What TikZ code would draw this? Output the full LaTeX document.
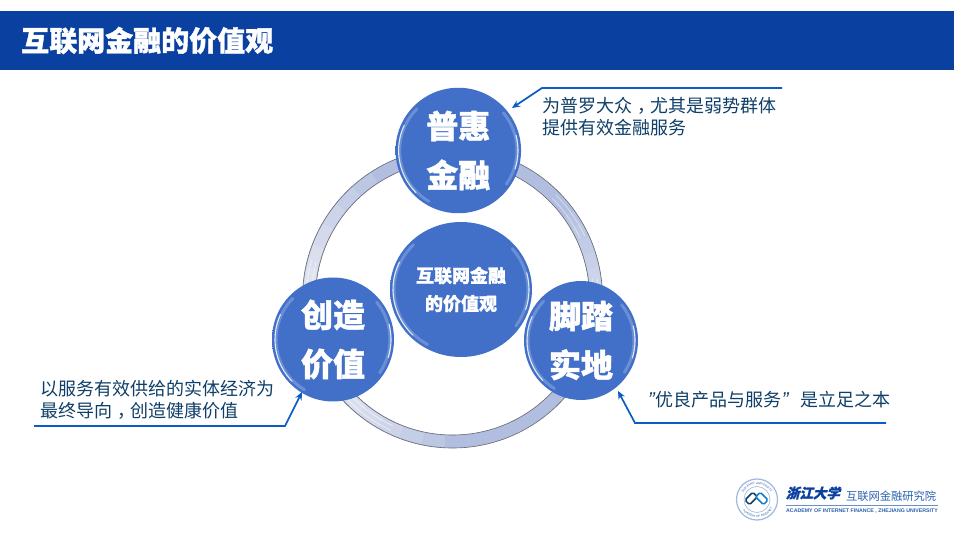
\documentclass[tikz,border=0pt]{standalone}
\usepackage{fontspec}
\setmainfont{Liberation Sans}
\newfontfamily\cjk{Noto Sans CJK SC}[BoldFeatures={FakeBold=1.3}]
\usetikzlibrary{shapes.geometric,arrows.meta,decorations.text}
\definecolor{barblue}{HTML}{0A41A0}
\definecolor{ballblue}{HTML}{4270C8}
\definecolor{balllight}{HTML}{6C95E0}
\definecolor{balledge}{HTML}{4A4C58}
\definecolor{ringblue}{HTML}{B2BEE0}
\definecolor{callblue}{HTML}{0B5CC4}
\definecolor{calltext}{HTML}{0F3F68}
\definecolor{logoblue}{HTML}{2A62AE}
\pgfdeclareradialshading{ballshade}{\pgfpoint{0bp}{0bp}}{
  color(0bp)=(ballblue);color(45bp)=(ballblue);color(48.5bp)=(balllight);
  color(49.3bp)=(balledge);color(50bp)=(balledge)}
\tikzset{
  x=1pt,y=-1pt,
  ball/.style={ellipse,inner sep=0pt,shading=ballshade,text=white,align=center},
  bigtext/.style={font=\cjk\bfseries\fontsize{32}{49}\selectfont},
  midtext/.style={font=\cjk\bfseries\fontsize{18}{28}\selectfont},
  calltxt/.style={anchor=west,inner sep=0pt,text=calltext,align=left,font=\cjk\fontsize{18}{22}\selectfont},
  callout/.style={draw=callblue,line width=1.7pt,-{Stealth[length=8pt,width=7pt]}},
  sheen/.style={white,line cap=round,opacity=.8,line width=1.1pt},
  glow/.style={white,line cap=round,opacity=.22,line width=3pt},
  logotext/.style={inner sep=0pt,text=logoblue}
}
\newcommand{\ctrcomma}{\kern5pt，\kern-5pt}
\newcommand{\qmark}{{\fontspec{Liberation Sans}\fontsize{20}{22}\selectfont\itshape ”}}
\newcommand{\ballarc}[7]{% style cx cy rx ry start end
  \draw[#1] ([shift={(#6:#4 and #5)}]#2,#3) arc[start angle=#6,end angle=#7,x radius=#4,y radius=#5];}
\newcommand{\ballfx}[4]{%
  \ballarc{glow}{#1}{#2}{#3-4}{#4-4}{120}{225}
  \ballarc{glow}{#1}{#2}{#3-4}{#4-4}{-40}{35}
  \ballarc{sheen}{#1}{#2}{#3-3}{#4-3}{135}{205}
  \ballarc{sheen}{#1}{#2}{#3-3}{#4-3}{-15}{18}
}
\begin{document}
\begin{tikzpicture}
\useasboundingbox (0,0) rectangle (954,534);
\fill[white] (0,0) rectangle (954,534);
% title bar
\fill[barblue] (0,11) rectangle (954,70);
\node[anchor=west,inner sep=0pt,text=white,font=\cjk\bfseries\fontsize{28}{32}\selectfont] (title) at (21,40.5) {互联网金融的价值观};
% ring
\draw[ringblue,line width=13pt] (452.5,298) circle[radius=143.5];
\foreach \k in {1,...,8}{
  \pgfmathsetmacro{\sa}{165-9*\k}
  \pgfmathsetmacro{\ea}{165+9*\k}
  \draw[white,opacity=.14,line width=11.5pt] ([shift={(\sa:143.5)}]452.5,298) arc[start angle=\sa,end angle=\ea,radius=143.5];
}
\foreach \k in {1,...,6}{
  \pgfmathsetmacro{\sa}{-6*\k}
  \pgfmathsetmacro{\ea}{6*\k}
  \draw[white,opacity=.09,line width=11.5pt] ([shift={(\sa:143.5)}]452.5,298) arc[start angle=\sa,end angle=\ea,radius=143.5];
}
\foreach \r in {141,146}{
  \draw[white,opacity=.6,line width=.7pt] ([shift={(115:\r)}]452.5,298) arc[start angle=115,end angle=195,radius=\r];
  \draw[white,opacity=.5,line width=.7pt] ([shift={(-45:\r)}]452.5,298) arc[start angle=-45,end angle=-25,radius=\r];
  \draw[white,opacity=.5,line width=.7pt] ([shift={(-8:\r)}]452.5,298) arc[start angle=-8,end angle=25,radius=\r];
}
\draw[balledge!85,line width=.6pt] (452.5,298) circle[radius=150];
\draw[balledge!85,line width=.6pt] (452.5,298) circle[radius=137];
% balls
\node[ball,minimum width=125.5pt,minimum height=125.5pt,bigtext] (top) at (458.3,150.5) {普惠\\金融};
\node[ball,minimum width=122pt,minimum height=124pt,bigtext] (left) at (333,339.5) {创造\\价值};
\node[ball,minimum width=114pt,minimum height=119pt,bigtext] (right) at (581,340.5) {脚踏\\实地};
\node[ball,minimum width=142pt,minimum height=135pt,midtext] (center) at (461,289.5) {互联网金融\\的价值观};
\ballfx{458.3}{150.5}{62.7}{62.7}
\ballfx{333}{339.5}{61}{62}
\ballfx{581}{340.5}{57}{59.5}
\ballfx{461}{289.5}{71}{67.5}
% callouts
\coordinate (t1) at (782,88); \coordinate (t2) at (542,88); \coordinate (t3) at (512,108);
\coordinate (l1) at (34,426); \coordinate (l2) at (285,426); \coordinate (l3) at (302,392);
\coordinate (r1) at (886,423); \coordinate (r2) at (635,423); \coordinate (r3) at (618,391);
\draw[callout] (t1) -- (t2) -- (t3);
\draw[callout] (l1) -- (l2) -- (l3);
\draw[callout] (r1) -- (r2) -- (r3);
\node[calltxt] (ttext) at (542,117) {为普罗大众\ctrcomma 尤其是弱势群体\\提供有效金融服务};
\node[calltxt] (ltext) at (40,399.5) {以服务有效供给的实体经济为\\最终导向\ctrcomma 创造健康价值};
\node[calltxt] (rtext) at (648,400) {\qmark\kern1pt 优良产品与服务\qmark\kern12pt 是立足之本};
% logo
\draw[logoblue!45,line width=1.2pt] (757,499.5) circle[radius=20.5];
\draw[logoblue!45,line width=.6pt] (757,499.5) circle[radius=13];
\path[decorate,decoration={text along path,text align=center,text={|\fontsize{3}{3}\selectfont\color{logoblue}|ZHEJIANG UNIVERSITY}}] ([shift={(160:15.2)}]757,499.5) arc[start angle=160,end angle=380,radius=15.2];
\path[decorate,decoration={text along path,text align=center,text={|\fontsize{3}{3}\selectfont\color{logoblue}|ACADEMY OF INTERNET}}] ([shift={(175:18)}]757,499.5) arc[start angle=175,end angle=-5,radius=18];
\draw[calltext,line width=1.5pt,rotate around={45:(751,499)},rounded corners=1.5pt] (746,495.5) rectangle (757,502);
\draw[cyan!60!blue,line width=1.5pt,rotate around={-45:(762,499)},rounded corners=1.5pt] (756,495.5) rectangle (767,502);
\node[anchor=west,inner sep=0pt,text=barblue,font=\cjk\bfseries\fontsize{13.5}{16}\selectfont,xslant=.25] (logocn) at (787,493) {浙江大学};
\node[anchor=west,logotext,font=\cjk\fontsize{11.25}{13}\selectfont] (logoname) at (846,496) {互联网金融研究院};
\draw[logoblue!70,line width=.9pt] (786,505) -- (938,505);
\node[anchor=west,logotext,font=\bfseries\fontsize{5.25}{6}\selectfont] (logoen) at (786,510.7) {ACADEMY OF INTERNET FINANCE , ZHEJIANG UNIVERSITY};
\end{tikzpicture}
\end{document}
